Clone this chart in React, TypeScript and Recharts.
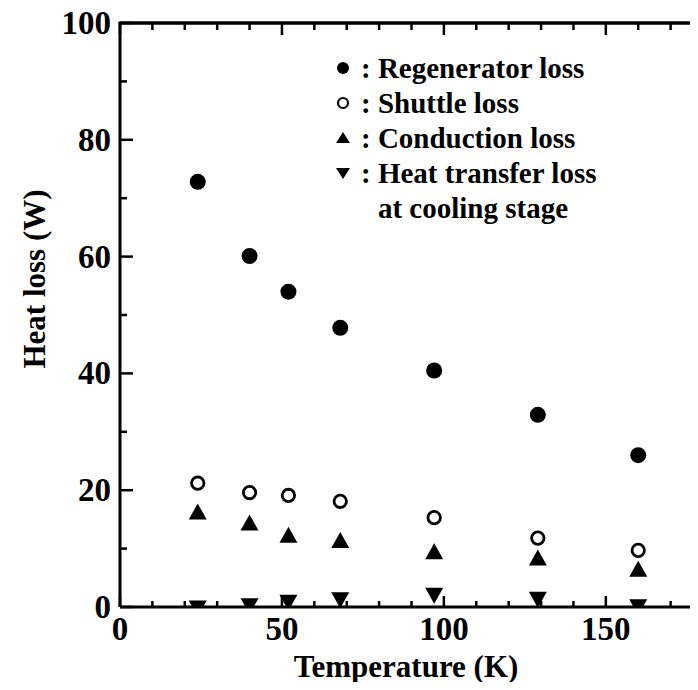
import { ScatterChart, Scatter, XAxis, YAxis, Legend, ReferenceLine } from "recharts";

const FONT = "'Liberation Serif', 'Times New Roman', serif";

// temperature of the cooling stage (K)
const temperatures = [24, 40, 52, 68, 97, 129, 160];

// heat losses (W)
const regeneratorLoss = [72.8, 60.1, 54.0, 47.8, 40.5, 32.9, 26.0];
const shuttleLoss = [21.2, 19.6, 19.1, 18.1, 15.3, 11.8, 9.7];
const conductionLoss = [15.9, 14.0, 11.9, 11.0, 9.1, 8.0, 6.1];
const heatTransferLoss = [0.2, 0.6, 1.2, 1.6, 2.4, 1.7, 0.4];

const xTicks = [0, 10, 20, 30, 40, 50, 60, 70, 80, 90, 100, 110, 120, 130, 140, 150, 160, 170, 180];
const yTicks = [0, 10, 20, 30, 40, 50, 60, 70, 80, 90, 100];

const toPoints = (values: number[]) => values.map((q, i) => ({ t: temperatures[i], q }));

const legendRows = [
  { kind: "filled", lines: ["Regenerator loss"] },
  { kind: "open", lines: ["Shuttle loss"] },
  { kind: "up", lines: ["Conduction loss"] },
  { kind: "down", lines: ["Heat transfer loss", "at cooling stage"] },
];

const CHART_W = 700;
const CHART_H = 680;
const MARGIN = { top: 15, right: 5, bottom: 0, left: 0 };
const X_AXIS_H = 81;
const Y_AXIS_W = 112;
// plot box size, used to mirror the ticks on the top and right frame
const PLOT_W = CHART_W - MARGIN.left - MARGIN.right - Y_AXIS_W;
const PLOT_H = CHART_H - MARGIN.top - MARGIN.bottom - X_AXIS_H;

const labelStyle = { fontFamily: FONT, fontWeight: "bold" as const, fill: "#000" };

function BottomTick({ x, y, payload }: any) {
  const major = payload.value % 50 === 0;
  const top = y - PLOT_H;
  return (
    <g>
      <line x1={x} x2={x} y1={y} y2={y - (major ? 11 : 6)} stroke="#000" strokeWidth={2.5} />
      <line x1={x} x2={x} y1={top} y2={top + (major ? 12 : 7)} stroke="#000" strokeWidth={2.5} />
      {major && (
        <text x={x} y={y + 33} textAnchor="middle" fontSize={33} {...labelStyle}>
          {payload.value}
        </text>
      )}
    </g>
  );
}

function LeftTick({ x, y, payload }: any) {
  const major = payload.value % 20 === 0;
  const right = x + PLOT_W;
  return (
    <g>
      {payload.value === 100 && (
        <line x1={x - 1.5} x2={right + 1.5} y1={y} y2={y} stroke="#000" strokeWidth={3} />
      )}
      {payload.value === 0 && (
        <line x1={right} x2={right} y1={y} y2={y - PLOT_H} stroke="#000" strokeWidth={3} />
      )}
      <line x1={x} x2={x + (major ? 13 : 7)} y1={y} y2={y} stroke="#000" strokeWidth={2.5} />
      <line x1={right} x2={right - (major ? 13 : 7)} y1={y} y2={y} stroke="#000" strokeWidth={2.5} />
      {major && (
        <text x={x - 9} y={y} textAnchor="end" dominantBaseline="central" fontSize={33} {...labelStyle}>
          {payload.value}
        </text>
      )}
    </g>
  );
}

function FilledCircle({ cx, cy }: any) {
  return <circle cx={cx} cy={cy} r={8} fill="#000" />;
}

function OpenCircle({ cx, cy }: any) {
  return <circle cx={cx} cy={cy} r={6.2} fill="#fff" stroke="#000" strokeWidth={2.8} />;
}

function UpTriangle({ cx, cy }: any) {
  const w = 9;
  const h = 16;
  return (
    <polygon
      points={`${cx - w},${cy + h / 3} ${cx + w},${cy + h / 3} ${cx},${cy - (2 * h) / 3}`}
      fill="#000"
    />
  );
}

function DownTriangle({ cx, cy }: any) {
  const w = 9;
  const h = 16;
  return (
    <polygon
      points={`${cx - w},${cy - h / 3} ${cx + w},${cy - h / 3} ${cx},${cy + (2 * h) / 3}`}
      fill="#000"
    />
  );
}

function LegendSymbol({ kind }: { kind: string }) {
  return (
    <svg width={20} height={20}>
      {kind === "filled" && <circle cx={10} cy={10} r={6} fill="#000" />}
      {kind === "open" && <circle cx={10} cy={10} r={5} fill="none" stroke="#000" strokeWidth={2.2} />}
      {kind === "up" && <polygon points="3,15 17,15 10,4" fill="#000" />}
      {kind === "down" && <polygon points="3,5 17,5 10,16" fill="#000" />}
    </svg>
  );
}

function LegendBox() {
  return (
    <div style={{ fontFamily: FONT, fontWeight: "bold", fontSize: 29, lineHeight: "35px", color: "#000" }}>
      {legendRows.map((row) => (
        <div key={row.kind} style={{ display: "flex", alignItems: "flex-start" }}>
          <div style={{ width: 20, height: 35, display: "flex", alignItems: "center", justifyContent: "center" }}>
            <LegendSymbol kind={row.kind} />
          </div>
          <span style={{ marginLeft: 8, whiteSpace: "pre" }}>: </span>
          <div>
            {row.lines.map((line) => (
              <div key={line} style={{ whiteSpace: "nowrap" }}>{line}</div>
            ))}
          </div>
        </div>
      ))}
    </div>
  );
}

const axisLine = { stroke: "#000", strokeWidth: 3 };

export default function App() {
  return (
    <div style={{ width: 690, height: 682, marginBottom: -8, overflow: "hidden", background: "#fff" }}>
      <ScatterChart width={CHART_W} height={CHART_H} margin={MARGIN}>
        <XAxis
          xAxisId="b"
          type="number"
          dataKey="t"
          domain={[0, 180]}
          ticks={xTicks}
          interval={0}
          tickSize={0}
          tickMargin={0}
          tickLine={false}
          axisLine={axisLine}
          tick={BottomTick}
          height={X_AXIS_H}
          allowDataOverflow
          label={() => (
            <text x={398} y={669} textAnchor="middle" fontSize={31} {...labelStyle}>
              Temperature (K)
            </text>
          )}
        />
        <YAxis
          yAxisId="l"
          type="number"
          dataKey="q"
          domain={[0, 100]}
          ticks={yTicks}
          interval={0}
          tickSize={0}
          tickMargin={0}
          tickLine={false}
          axisLine={axisLine}
          tick={LeftTick}
          width={Y_AXIS_W}
          allowDataOverflow
          label={() => (
            <text
              x={26}
              y={271}
              transform="rotate(-90, 26, 271)"
              textAnchor="middle"
              dominantBaseline="central"
              fontSize={31}
              {...labelStyle}
            >
              Heat loss (W)
            </text>
          )}
        />
        {/* top frame line */}
        <ReferenceLine xAxisId="b" yAxisId="l" y={100} stroke="#000" strokeWidth={3} ifOverflow="visible" />
        <Legend
          content={LegendBox}
          layout="vertical"
          align="center"
          verticalAlign="middle"
          wrapperStyle={{ top: 42.5, left: 325, width: 370 }}
        />
        <Scatter name="Regenerator loss" data={toPoints(regeneratorLoss)} xAxisId="b" yAxisId="l" shape={FilledCircle} isAnimationActive={false} />
        <Scatter name="Shuttle loss" data={toPoints(shuttleLoss)} xAxisId="b" yAxisId="l" shape={OpenCircle} isAnimationActive={false} />
        <Scatter name="Conduction loss" data={toPoints(conductionLoss)} xAxisId="b" yAxisId="l" shape={UpTriangle} isAnimationActive={false} />
        <Scatter name="Heat transfer loss" data={toPoints(heatTransferLoss)} xAxisId="b" yAxisId="l" shape={DownTriangle} isAnimationActive={false} />
      </ScatterChart>
    </div>
  );
}
